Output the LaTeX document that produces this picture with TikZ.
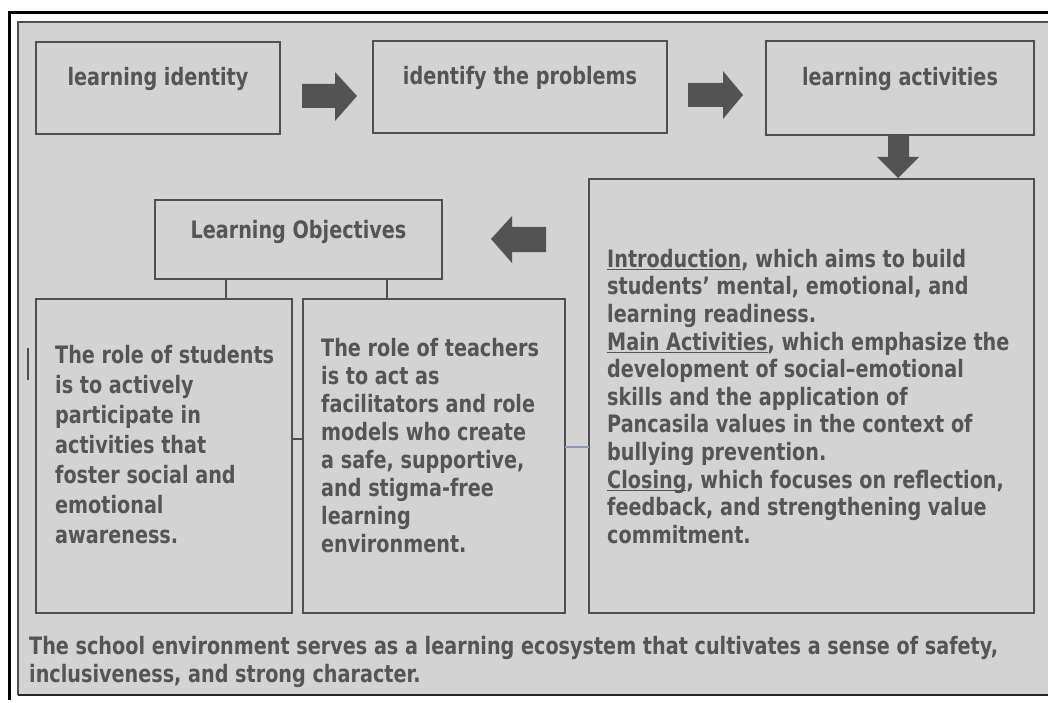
\documentclass[tikz,border=0pt]{standalone}
\usepackage{fontspec}
\newfontfamily\dfont{DejaVu Sans}[FakeStretch=0.8]
\usetikzlibrary{calc}
\definecolor{panelc}{HTML}{D3D3D3}
\definecolor{boxc}{HTML}{505050}
\definecolor{txtc}{HTML}{555555}
\definecolor{arrc}{HTML}{535353}
\definecolor{linkc}{HTML}{8C9BB5}
\newbox\myulbox
\newcommand\myul[1]{\setbox\myulbox\hbox{#1}\rlap{\rule[-3.2pt]{\wd\myulbox}{1.6pt}}\box\myulbox}
\tikzset{
  box/.style={draw=boxc, line width=2.4pt, anchor=north west, inner sep=0pt, outer sep=0pt},
  lbl/.style={text=txtc, inner sep=0pt, font=\dfont\bfseries\fontsize{24}{28}\selectfont},
  para/.style={lbl, align=left, anchor=north west},
  conn/.style={draw=boxc, line width=1.2pt},
  bluelink/.style={draw=linkc, line width=1.5pt},
  blockarrow/.style={fill=arrc, draw=none}
}
\begin{document}
\begin{tikzpicture}[x=1pt,y=-1pt]
\useasboundingbox (0,0) rectangle (1048,703);
\fill[white] (0,0) rectangle (1048,703);
% outer frame and panel
\fill[panelc] (18,22) rectangle (1060,695);
\draw[boxc, line width=2pt] (1060,22) -- (18,22) -- (18,695);
\draw[black!85, line width=2.6pt] (18,695) -- (1060,695);
\draw[black, line width=3pt] (9,700) -- (9,12.5) -- (1060,12.5);

% top row boxes
\node[box, minimum width=244pt, minimum height=92pt] (li) at (36,42) {};
\node[box, minimum width=294pt, minimum height=92pt] (ip) at (373,41) {};
\node[box, minimum width=268pt, minimum height=94pt] (la) at (766,41) {};
\node[lbl, anchor=base] (lit) at (li.north |- 0,86) {learning identity};
\node[lbl, anchor=base] (ipt) at (ip.north |- 0,85) {identify the problems};
\node[lbl, anchor=base] (lat) at (la.north |- 0,86) {learning activities};

% objectives
\node[box, minimum width=287pt, minimum height=79pt] (lo) at (155,200) {};
\node[lbl, anchor=base] (lot) at (lo.north |- 0,238) {Learning Objectives};

% lower boxes
\node[box, minimum width=256pt, minimum height=314pt] (st) at (36,299) {};
\node[box, minimum width=262pt, minimum height=314pt] (te) at (303,299) {};
\node[box, minimum width=445pt, minimum height=434pt] (bb) at (589,179) {};

\node[para, font=\dfont\bfseries\fontsize{24}{30}\selectfont] (stt) at (55,344.8)
 {The role of students\\is to actively\\participate in\\activities that\\foster social and\\emotional\\awareness.};
\node[para] (tet) at (321,338)
 {The role of teachers\\is to act as\\facilitators and role\\models who create\\a safe, supportive,\\and stigma-free\\learning\\environment.};
\node[para, font=\dfont\bfseries\fontsize{24}{27.6}\selectfont] (bbt) at (607,248.8)
 {\myul{Introduction}, which aims to build\\students’ mental, emotional, and\\learning readiness.\\\myul{Main Activities}, which emphasize the\\development of social–emotional\\skills and the application of\\Pancasila values in the context of\\bullying prevention.\\\myul{Closing}, which focuses on reflection,\\feedback, and strengthening value\\commitment.};

% bottom text
\node[para] (env) at (29,635.8)
 {The school environment serves as a learning ecosystem that cultivates a sense of safety,\\inclusiveness, and strong character.};

% connectors
\coordinate (c1) at (226,0);
\coordinate (c2) at (387,0);
\coordinate (c3) at (0,439);
\coordinate (c4) at (0,447);
\draw[conn] (c1 |- lo.south) -- (c1 |- st.north);
\draw[conn] (c2 |- lo.south) -- (c2 |- te.north);
\draw[conn] (st.east |- c3) -- (te.west |- c3);
\draw[bluelink] (te.east |- c4) -- (bb.west |- c4);
\coordinate (m1) at (28,348);
\coordinate (m2) at (28,380);
\draw[boxc, line width=1.2pt] (m1) -- (m2);

% block arrows
\fill[blockarrow] (302,84) -- (335,84) -- (335,72) -- (357,96) -- (335,121) -- (335,108) -- (302,108) -- cycle;
\fill[blockarrow] (688,83) -- (723,83) -- (723,71) -- (743,95) -- (723,119) -- (723,107) -- (688,107) -- cycle;
\fill[blockarrow] (888,135) -- (909,135) -- (909,157) -- (919,157) -- (898,178) -- (877,157) -- (888,157) -- cycle;
\fill[blockarrow] (546,227) -- (512,227) -- (512,216) -- (491,239) -- (512,263) -- (512,252) -- (546,252) -- cycle;
\end{tikzpicture}
\end{document}
